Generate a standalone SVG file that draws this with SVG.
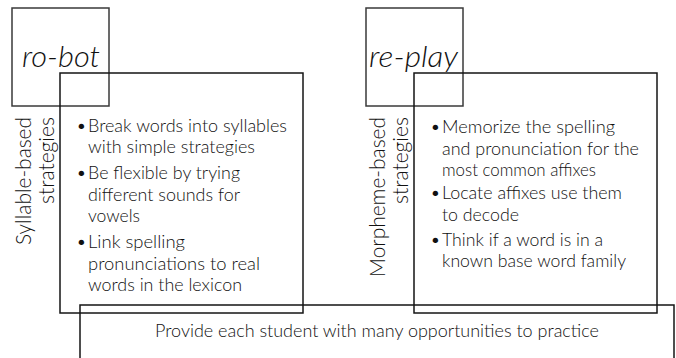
<svg xmlns="http://www.w3.org/2000/svg" width="676" height="358" viewBox="0 0 676 358">
<style>
.bg{fill:#ffffff}
.sm{fill:none;stroke:#3a3a3a;stroke-width:1.5}
.bx{fill:none;stroke:#151515;stroke-width:1.5}
.t{font-family:Lato,"Open Sans","Liberation Sans",sans-serif;font-weight:300;fill:#111111}
.lbl{font-size:30px;font-style:italic}
.vt{font-size:22px}
.bl{font-size:18.5px}
</style>
<rect class="bg" x="0" y="0" width="676" height="358"/>

<g id="robot-word">
<rect class="sm" x="12" y="8" width="97" height="98"/>
<text class="t lbl" x="22" y="67" textLength="78" lengthAdjust="spacingAndGlyphs">ro-bot</text>
</g>

<g id="syllable-label">
<text class="t vt" transform="translate(31,117) rotate(-90)" text-anchor="end" textLength="128" lengthAdjust="spacingAndGlyphs">Syllable-based</text>
<text class="t vt" transform="translate(54,117) rotate(-90)" text-anchor="end" textLength="87" lengthAdjust="spacingAndGlyphs">strategies</text>
</g>

<g id="syllable-box">
<rect class="bx" x="60" y="73" width="243" height="240"/>
<text class="t bl" x="76" y="131.5">•</text>
<text class="t bl" x="88" y="131.5" textLength="199" lengthAdjust="spacingAndGlyphs">Break words into syllables</text>
<text class="t bl" x="88" y="153" textLength="167" lengthAdjust="spacingAndGlyphs">with simple strategies</text>
<text class="t bl" x="76" y="179">•</text>
<text class="t bl" x="88" y="179" textLength="152" lengthAdjust="spacingAndGlyphs">Be flexible by trying</text>
<text class="t bl" x="88" y="200.5" textLength="152" lengthAdjust="spacingAndGlyphs">different sounds for</text>
<text class="t bl" x="88" y="222" textLength="52" lengthAdjust="spacingAndGlyphs">vowels</text>
<text class="t bl" x="76" y="248">•</text>
<text class="t bl" x="88" y="248" textLength="97" lengthAdjust="spacingAndGlyphs">Link spelling</text>
<text class="t bl" x="88" y="269.5" textLength="172" lengthAdjust="spacingAndGlyphs">pronunciations to real</text>
<text class="t bl" x="88" y="291" textLength="154" lengthAdjust="spacingAndGlyphs">words in the lexicon</text>
</g>

<g id="replay-word">
<rect class="sm" x="366" y="8" width="97" height="98"/>
<text class="t lbl" x="369" y="67" textLength="89" lengthAdjust="spacingAndGlyphs">re-play</text>
</g>

<g id="morpheme-label">
<text class="t vt" transform="translate(385,117) rotate(-90)" text-anchor="end" textLength="160" lengthAdjust="spacingAndGlyphs">Morpheme-based</text>
<text class="t vt" transform="translate(408,117) rotate(-90)" text-anchor="end" textLength="87" lengthAdjust="spacingAndGlyphs">strategies</text>
</g>

<g id="morpheme-box">
<rect class="bx" x="414" y="73" width="243" height="240"/>
<text class="t bl" x="430" y="133">•</text>
<text class="t bl" x="442" y="133" textLength="173" lengthAdjust="spacingAndGlyphs">Memorize the spelling</text>
<text class="t bl" x="442" y="154.5" textLength="197" lengthAdjust="spacingAndGlyphs">and pronunciation for the</text>
<text class="t bl" x="442" y="176" textLength="154" lengthAdjust="spacingAndGlyphs">most common affixes</text>
<text class="t bl" x="430" y="199">•</text>
<text class="t bl" x="442" y="199" textLength="180" lengthAdjust="spacingAndGlyphs">Locate affixes use them</text>
<text class="t bl" x="442" y="220.5" textLength="77" lengthAdjust="spacingAndGlyphs">to decode</text>
<text class="t bl" x="430" y="245.5">•</text>
<text class="t bl" x="442" y="245.5" textLength="161" lengthAdjust="spacingAndGlyphs">Think if a word is in a</text>
<text class="t bl" x="442" y="267" textLength="184" lengthAdjust="spacingAndGlyphs">known base word family</text>
</g>

<g id="practice-box">
<rect class="bx" x="80" y="305" width="594" height="70"/>
<text class="t bl" x="377" y="337" text-anchor="middle" textLength="444" lengthAdjust="spacingAndGlyphs">Provide each student with many opportunities to practice</text>
</g>
</svg>
